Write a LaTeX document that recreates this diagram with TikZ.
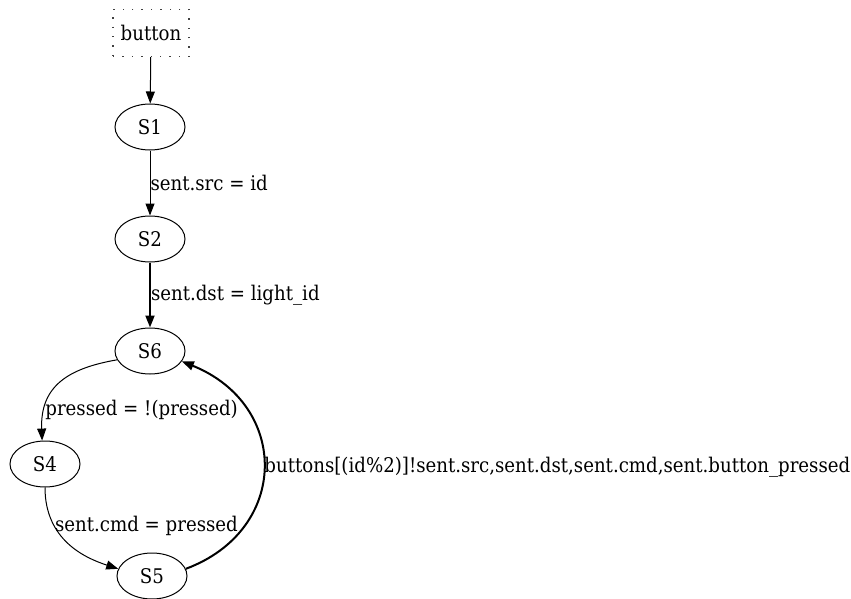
\documentclass[tikz,border=0pt]{standalone}
\usepackage{fontspec}
\setmainfont{DejaVu Serif Condensed}
\usetikzlibrary{shapes.geometric,arrows.meta}
\begin{document}
\begin{tikzpicture}[
      x=1pt, y=-1pt,
      state/.style={ellipse, draw, line width=1pt, minimum width=70pt, minimum height=46pt, inner sep=0pt},
      src/.style={draw, gray!50!black, text=black, line width=1.4pt, dash pattern=on 1.4pt off 8pt, minimum width=76pt, minimum height=47pt, inner sep=0pt},
      trans/.style={line width=1pt, -{Triangle[length=12pt, width=9pt]}},
      heavy/.style={trans, line width=2pt},
      lbl/.style={inner sep=0pt, anchor=west}
    ]
    \useasboundingbox (0,0) rectangle (851,599);
    \fontsize{20.2}{24}\selectfont
    \node[src] (btn) at (151,33) {button};
    \node[state] (S1) at (150,127) {S1};
    \node[state] (S2) at (150,239) {S2};
    \node[state] (S6) at (150,351) {S6};
    \node[state] (S4) at (45,464) {S4};
    \node[state] (S5) at (152,576) {S5};
    \draw[trans] (btn) -- (S1);
    \draw[trans] (S1) -- node[lbl, pos=0.5] {sent.src = id} (S2);
    \draw[heavy] (S2) -- node[lbl, pos=0.5] {sent.dst = light\_id} (S6);
    \draw[trans] (S6.195) .. controls (70,368) and (40,385) .. node[lbl, pos=0.79] {pressed = !(pressed)} (S4.97);
    \draw[trans] (S4.south) .. controls (45,540) and (85,558) .. node[lbl, pos=0.3] {sent.cmd = pressed} (S5.168);
    \draw[heavy] (S5.12) .. controls (290,530) and (290,405) .. node[lbl, pos=0.5] {buttons[(id\%2)]!sent.src,sent.dst,sent.cmd,sent.button\_pressed} (S6.-18);
  \end{tikzpicture}
\end{document}
